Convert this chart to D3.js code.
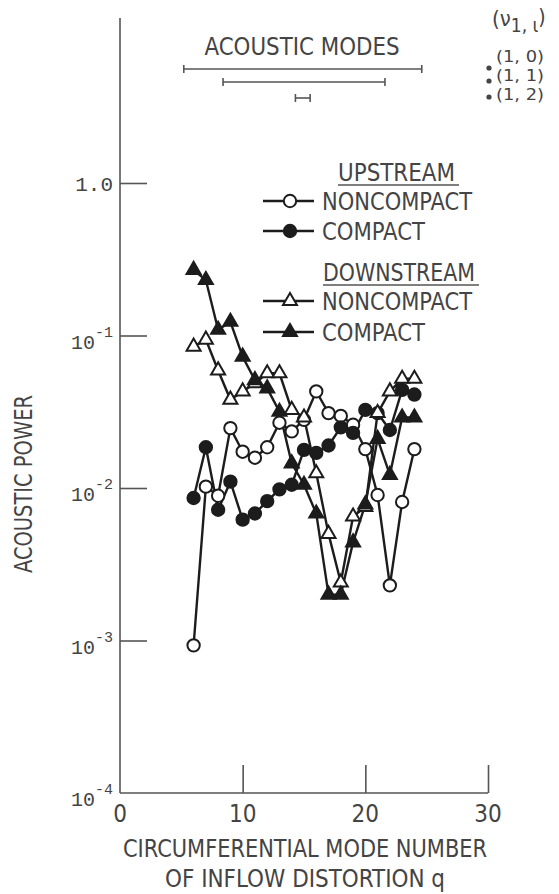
<!DOCTYPE html>
<html>
<head>
<meta charset="utf-8">
<script src="https://cdn.jsdelivr.net/npm/d3@7"></script>
<style>
  body { margin: 0; background: #fff; }
  text { font-family: "Liberation Sans Narrow", "DejaVu Sans Condensed", sans-serif; fill: #444; }
  .mono { font-family: "Liberation Mono", "DejaVu Sans Mono", monospace; }
</style>
</head>
<body>
<svg width="559" height="894"></svg>
<script>
// Circumferential mode numbers q
var modeQ = [6, 7, 8, 9, 10, 11, 12, 13, 14, 15, 16, 17, 18, 19, 20, 21, 22, 23, 24];

// Acoustic power for each series
var upNonCompact = [0.00093, 0.0102, 0.0089, 0.0247, 0.0173, 0.0158, 0.0185, 0.0268, 0.0235, 0.028,
                    0.043, 0.031, 0.0297, 0.026, 0.018, 0.009, 0.0023, 0.0081, 0.018];
var upCompact = [0.0086, 0.0185, 0.0072, 0.011, 0.0062, 0.0068, 0.0082, 0.0098, 0.0105, 0.0178,
                 0.017, 0.019, 0.025, 0.023, 0.0325, 0.031, 0.024, 0.044, 0.041];
var downNonCompact = [0.0845, 0.094, 0.059, 0.038, 0.043, 0.0486, 0.0565, 0.0565, 0.0325, 0.029,
                      0.0125, 0.005, 0.0024, 0.0065, 0.0075, 0.031, 0.043, 0.052, 0.052];
var downCompact = [0.269, 0.231, 0.109, 0.123, 0.0726, 0.051, 0.045, 0.0316, 0.0145, 0.0105,
                   0.0068, 0.002, 0.002, 0.0044, 0.0078, 0.021, 0.0122, 0.029, 0.029];

// Acoustic mode ranges of q, one bar per (nu1, iota) mode
var modeRanges = [[5.2, 24.6], [8.4, 21.6], [14.3, 15.5]];
var modeLabels = ['(1, 0)', '(1, 1)', '(1, 2)'];

// Axis ticks
var xTicks = [0, 10, 20, 30];
var yTicks = [1, 0.1, 0.01, 0.001, 0.0001];
var yTickExp = ['', '-1', '-2', '-3', '-4'];

var svg = d3.select('svg');

var xScale = d3.scaleLinear().domain([0, 30]).range([120, 488]);
var yScale = d3.scaleLog().domain([1e-4, 1]).range([793, 183]);

var ink = '#1c1c1c';
var axisInk = '#555';

// Small helper: text squeezed to the width it has in the picture
function label(x, y, str, size, width, anchor) {
    var t = svg.append('text')
        .attr('x', x).attr('y', y)
        .attr('font-size', size)
        .attr('text-anchor', anchor || 'start')
        .text(str);
    if (width) t.attr('textLength', width).attr('lengthAdjust', 'spacingAndGlyphs');
    return t;
}

// Axis lines (the y axis runs up past the last decade)
svg.append('line')
    .attr('x1', xScale(0)).attr('x2', xScale(0))
    .attr('y1', 18).attr('y2', yScale(1e-4))
    .attr('stroke', axisInk).attr('stroke-width', 1.6);
svg.append('line')
    .attr('x1', xScale(0)).attr('x2', xScale(30))
    .attr('y1', yScale(1e-4)).attr('y2', yScale(1e-4))
    .attr('stroke', axisInk).attr('stroke-width', 1.6);

// Inward ticks through d3 axes
var yAxis = svg.append('g')
    .attr('transform', 'translate(' + [xScale(0), 0] + ')')
    .call(d3.axisRight(yScale).tickValues(yTicks.slice(0, 4)).tickSize(27).tickFormat(''));
var xAxis = svg.append('g')
    .attr('transform', 'translate(' + [0, yScale(1e-4)] + ')')
    .call(d3.axisTop(xScale).tickValues(xTicks.slice(1)).tickSize(28).tickFormat(''));
[yAxis, xAxis].forEach(function(g) {
    g.select('.domain').remove();
    g.selectAll('line').attr('stroke', axisInk).attr('stroke-width', 1.6);
});

// Y tick labels
yTicks.forEach(function(v, i) {
    var ty = yScale(v);
    if (i === 0) {
        svg.append('text').attr('class', 'mono')
            .attr('x', 113).attr('y', ty + 8)
            .attr('text-anchor', 'end').attr('font-size', 21)
            .text('1.0');
    } else {
        var t = svg.append('text').attr('class', 'mono')
            .attr('x', 113).attr('y', ty + 13)
            .attr('text-anchor', 'end').attr('font-size', 20);
        t.append('tspan').text('10');
        t.append('tspan').attr('dy', -12).attr('font-size', 15).text(yTickExp[i]);
    }
});

// X tick labels
svg.selectAll('.xlab')
    .data(xTicks)
    .enter().append('text')
    .attr('class', 'xlab')
    .attr('x', function(d) { return xScale(d); })
    .attr('y', 822)
    .attr('text-anchor', 'middle')
    .attr('font-size', 24)
    .text(function(d) { return d; });

// Axis titles
label(305, 857, 'CIRCUMFERENTIAL MODE NUMBER', 25, 364, 'middle');
label(305, 887, 'OF INFLOW DISTORTION q', 25, 280, 'middle');
svg.append('text')
    .attr('transform', 'translate(32,484) rotate(-90)')
    .attr('text-anchor', 'middle').attr('font-size', 24)
    .attr('textLength', 178).attr('lengthAdjust', 'spacingAndGlyphs')
    .text('ACOUSTIC POWER');

// Acoustic mode bars
label(302, 55, 'ACOUSTIC MODES', 25, 195, 'middle');
var barY = [69, 82, 98];
var bars = svg.selectAll('.mode')
    .data(modeRanges)
    .enter().append('g')
    .attr('class', 'mode');
bars.append('line')
    .attr('x1', function(d) { return xScale(d[0]); })
    .attr('x2', function(d) { return xScale(d[1]); })
    .attr('y1', function(d, i) { return barY[i]; })
    .attr('y2', function(d, i) { return barY[i]; });
bars.append('line')
    .attr('x1', function(d) { return xScale(d[0]); })
    .attr('x2', function(d) { return xScale(d[0]); })
    .attr('y1', function(d, i) { return barY[i] - 4; })
    .attr('y2', function(d, i) { return barY[i] + 4; });
bars.append('line')
    .attr('x1', function(d) { return xScale(d[1]); })
    .attr('x2', function(d) { return xScale(d[1]); })
    .attr('y1', function(d, i) { return barY[i] - 4; })
    .attr('y2', function(d, i) { return barY[i] + 4; });
bars.selectAll('line').attr('stroke', '#555').attr('stroke-width', 1.6);

// Mode key at the top right
var key = svg.append('text').attr('x', 492).attr('y', 26).attr('font-size', 22);
key.append('tspan').text('(\u03bd');
key.append('tspan').attr('dy', 6).attr('font-size', 19).text('1, \u03b9');
key.append('tspan').attr('dy', -8).attr('font-size', 21).text(')');
modeLabels.forEach(function(lab, i) {
    svg.append('circle').attr('cx', 489).attr('cy', barY[i] - 1).attr('r', 2.6).attr('fill', '#444');
    label(496, [62, 81, 100][i], lab, 15, 48);
});

// Series
var series = [
    { values: upNonCompact, shape: d3.symbolCircle, fill: '#fff' },
    { values: upCompact, shape: d3.symbolCircle, fill: ink },
    { values: downNonCompact, shape: d3.symbolTriangle, fill: '#fff' },
    { values: downCompact, shape: d3.symbolTriangle, fill: ink }
];

var line = d3.line()
    .x(function(d) { return xScale(d[0]); })
    .y(function(d) { return yScale(d[1]); });

function symbolPath(shape) {
    return d3.symbol().type(shape).size(shape === d3.symbolCircle ? 120 : 85)();
}

series.forEach(function(s) {
    var pts = modeQ.map(function(q, i) { return [q, s.values[i]]; });
    svg.append('path')
        .datum(pts)
        .attr('d', line)
        .attr('fill', 'none')
        .attr('stroke', ink)
        .attr('stroke-width', 2.4);
});
series.forEach(function(s) {
    var pts = modeQ.map(function(q, i) { return [q, s.values[i]]; });
    svg.append('g').selectAll('path')
        .data(pts)
        .enter().append('path')
        .attr('transform', function(d) { return 'translate(' + [xScale(d[0]), yScale(d[1])] + ')'; })
        .attr('d', symbolPath(s.shape))
        .attr('fill', s.fill)
        .attr('stroke', ink)
        .attr('stroke-width', 2);
});

// Legend
var legendRows = [
    { label: 'NONCOMPACT', y: 201, w: 150, s: series[0] },
    { label: 'COMPACT', y: 231, w: 103, s: series[1] },
    { label: 'NONCOMPACT', y: 301, w: 150, s: series[2] },
    { label: 'COMPACT', y: 332, w: 103, s: series[3] }
];
legendRows.forEach(function(r) {
    svg.append('line')
        .attr('x1', 263).attr('x2', 314).attr('y1', r.y).attr('y2', r.y)
        .attr('stroke', ink).attr('stroke-width', 2.4);
    svg.append('path')
        .attr('transform', 'translate(' + [290, r.y] + ')')
        .attr('d', symbolPath(r.s.shape))
        .attr('fill', r.s.fill).attr('stroke', ink).attr('stroke-width', 2);
    label(322, r.y + 9, r.label, 25, r.w);
});
[{ label: 'UPSTREAM', x: 338, y: 172, w: 117 }, { label: 'DOWNSTREAM', x: 323, y: 272, w: 152 }].forEach(function(h) {
    label(h.x, h.y + 9, h.label, 25, h.w);
    svg.append('line')
        .attr('x1', h.x).attr('x2', h.x + h.w + 4)
        .attr('y1', h.y + 13).attr('y2', h.y + 13)
        .attr('stroke', '#555').attr('stroke-width', 1.4);
});
</script>
</body>
</html>
